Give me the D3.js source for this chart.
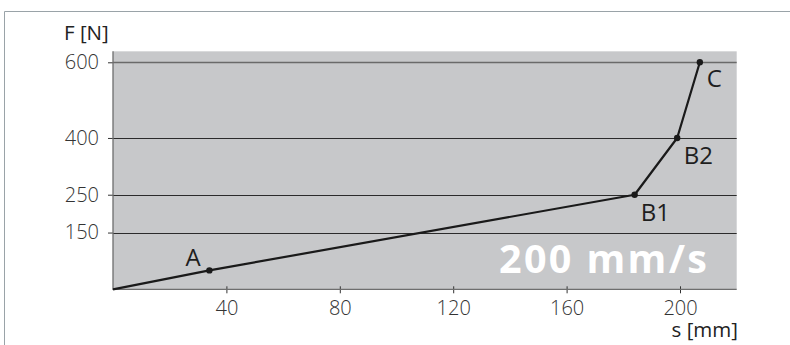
<!DOCTYPE html>
<html><head><meta charset="utf-8">
<script src="https://cdn.jsdelivr.net/npm/d3@7"></script>
<style>body{margin:0;background:#fff}svg{display:block;font-family:"Open Sans",sans-serif}</style>
</head><body>
<script>
const sValues = [0, 34, 184, 199, 207];
const fValues = [0, 50, 250, 400, 600];
const pointLabels = ["", "A", "B1", "B2", "C"];
const yTicks = [150, 250, 400, 600];
const xTicks = [40, 80, 120, 160, 200];
const speedLabel = "200 mm/s";
const yTitle = "F [N]", xTitle = "s [mm]";

const W = 790, H = 345;
const svg = d3.select("body").append("svg").attr("width", W).attr("height", H);

// outer frame (top and left)
svg.append("path").attr("d", "M4.5,345V11.5H790").attr("fill","none").attr("stroke","#9aa3a8").attr("stroke-width",1);

const x = d3.scaleLinear().domain([0, 220]).range([113, 736.7]);
const y = d3.scaleLinear().domain([0, 600]).range([289.3, 62.3]);
const yTop = 629;

svg.append("rect").attr("x", x(0)).attr("y", y(yTop)).attr("width", x(220)-x(0)).attr("height", y(0)-y(yTop)).attr("fill","#c7c8ca");

// gridlines
svg.append("g").selectAll("line").data(yTicks).join("line")
  .attr("x1", x(0)).attr("x2", x(220))
  .attr("y1", d => Math.round(y(d))+0.5).attr("y2", d => Math.round(y(d))+0.5)
  .attr("stroke", d => d===600 ? "#6a6a6a" : "#2b2b2b").attr("stroke-width", d => d===600?1.6:1);

// big speed label
svg.append("text").attr("x", 499).attr("y", 272.7).attr("fill","#fff").attr("font-weight",700)
  .attr("font-size", 39.5).attr("textLength", 208).attr("lengthAdjust","spacing").text(speedLabel);

// axes
const yAxis = svg.append("g").attr("transform", `translate(${x(0)},0)`)
  .call(d3.axisLeft(y).tickValues(yTicks).tickSize(5).tickPadding(9).tickSizeOuter(0));
yAxis.select(".domain").remove();
yAxis.selectAll(".tick line").attr("stroke","#333");
yAxis.selectAll(".tick text").attr("font-size",20).attr("font-family","'Open Sans',sans-serif").attr("font-weight",300).attr("fill","#333");

const xAxis = svg.append("g").attr("transform", `translate(0,${y(0)})`)
  .call(d3.axisBottom(x).tickValues(xTicks).tickSize(4).tickSizeOuter(0));
xAxis.select(".domain").remove();
xAxis.selectAll(".tick line").attr("y1",-3).attr("y2",4).attr("stroke","#333");
xAxis.selectAll(".tick text").attr("y", 25.7).attr("dy",0).attr("font-size",20).attr("font-family","'Open Sans',sans-serif").attr("font-weight",300).attr("fill","#333");

// plot left and bottom borders
svg.append("path").attr("d", `M${x(0)},${y(yTop)}V${y(0)}H${x(220)}`).attr("fill","none").attr("stroke","#6e6e6e").attr("stroke-width",1.3);

// titles
svg.append("text").attr("x", 64).attr("y", 40).attr("font-size",20.5).attr("fill","#222").text(yTitle);
svg.append("text").attr("x", 738).attr("y", 337).attr("text-anchor","end").attr("font-size",20.5).attr("fill","#222").text(xTitle);

// curve
const pts = sValues.map((s,i) => ({s, f: fValues[i], label: pointLabels[i]}));
svg.append("path").datum(pts).attr("fill","none").attr("stroke","#1a1a1a").attr("stroke-width",2.2)
  .attr("stroke-linejoin","round")
  .attr("d", d3.line().x(d => x(d.s)).y(d => y(d.f)));
svg.append("g").selectAll("circle").data(pts.slice(1)).join("circle")
  .attr("cx", d => x(d.s)).attr("cy", d => y(d.f)).attr("r", 3.2).attr("fill","#1a1a1a");

// point labels
const offsets = {A:[-24,-4.4], B1:[6,26], B2:[6.5,26], C:[7,25]};
svg.append("g").selectAll("text").data(pts.slice(1)).join("text")
  .attr("x", d => x(d.s) + offsets[d.label][0]).attr("y", d => y(d.f) + offsets[d.label][1])
  .attr("font-size", 24).attr("fill","#1e1e1e").text(d => d.label);
</script>
</body></html>
